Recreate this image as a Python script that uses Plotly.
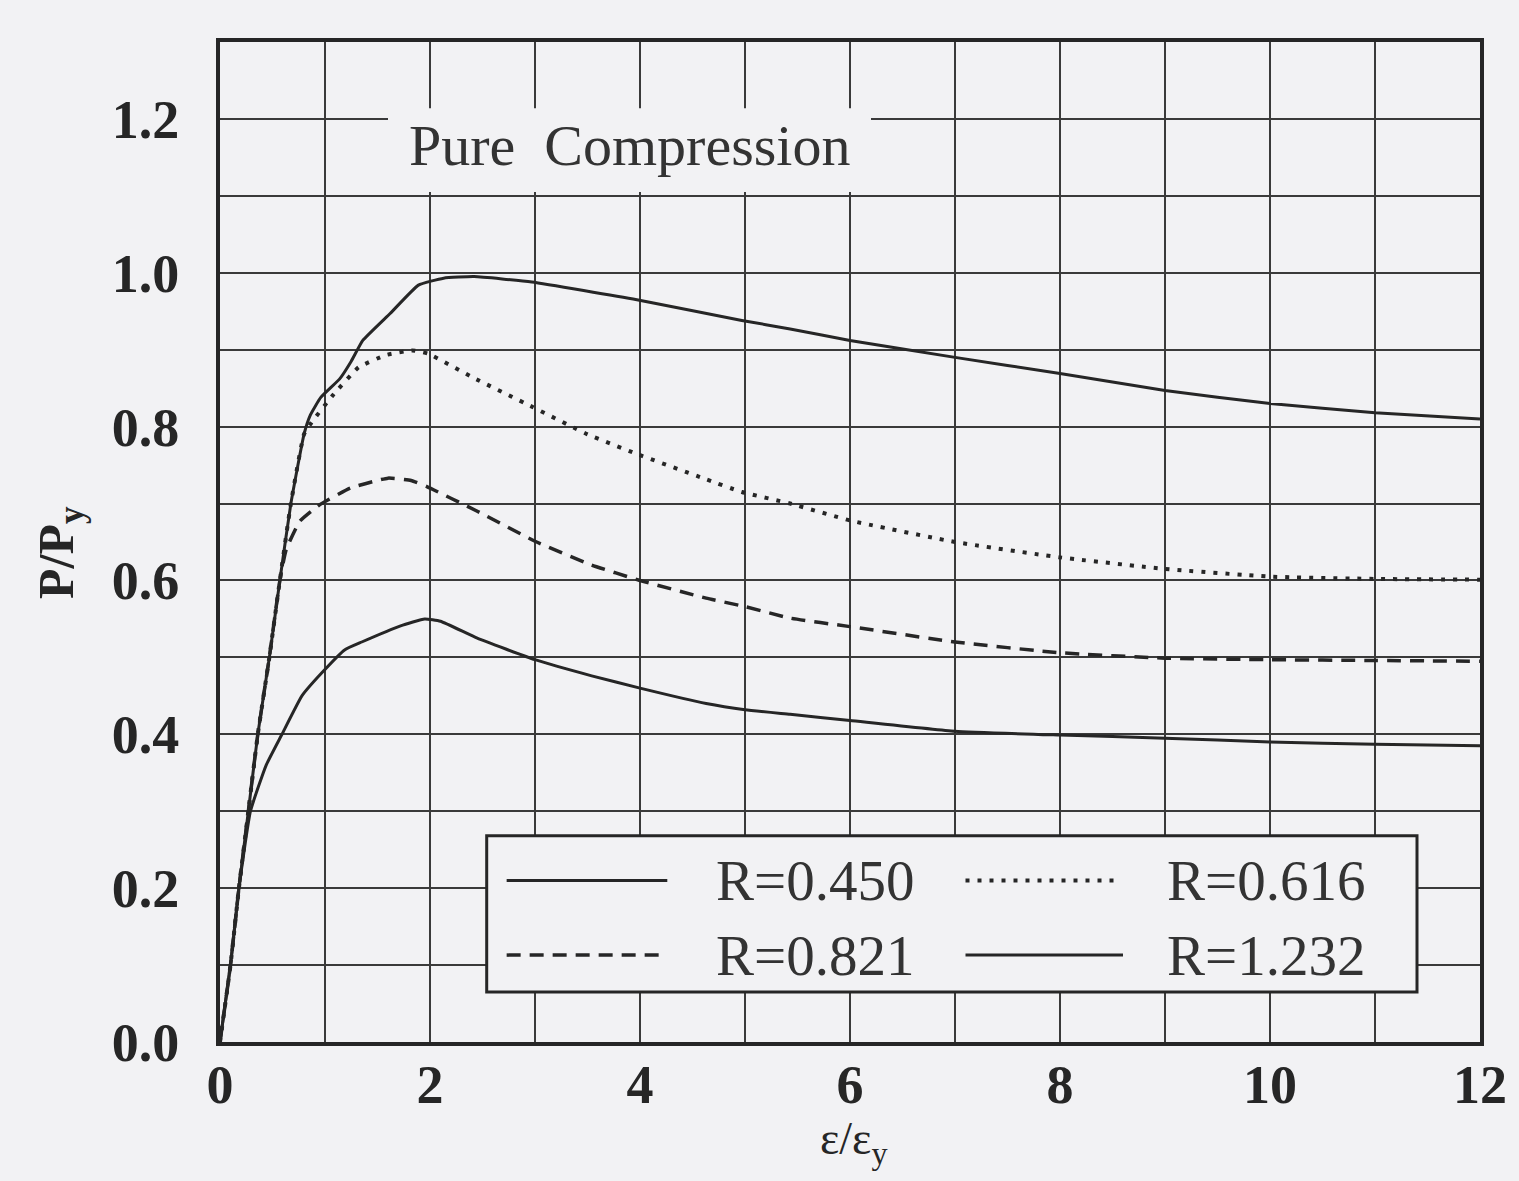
import plotly.graph_objects as go

# ---- data ----
x_r0450 = [0, 0.1, 0.18, 0.27, 0.36, 0.47, 0.57, 0.675, 0.8, 0.86, 0.96, 1.14, 1.25, 1.36, 1.62, 1.89, 2.13, 2.42, 2.97, 3.97, 4.97, 5.43, 6, 7, 8, 9, 10, 11, 12]
y_r0450 = [0, 0.1, 0.2, 0.3, 0.4, 0.5, 0.6, 0.7, 0.79, 0.815, 0.838, 0.862, 0.885, 0.912, 0.947, 0.984, 0.993, 0.995, 0.988, 0.965, 0.938, 0.927, 0.912, 0.89, 0.869, 0.847, 0.83, 0.818, 0.81]

x_r0616 = [0, 0.1, 0.18, 0.27, 0.36, 0.47, 0.57, 0.675, 0.8, 0.87, 1.07, 1.32, 1.58, 1.83, 1.98, 2.42, 2.97, 3.5, 3.96, 4.6, 4.97, 5.43, 6, 7, 8, 9, 10, 11, 12]
y_r0616 = [0, 0.1, 0.2, 0.3, 0.4, 0.5, 0.6, 0.7, 0.79, 0.805, 0.84, 0.877, 0.893, 0.899, 0.895, 0.863, 0.826, 0.79, 0.765, 0.733, 0.715, 0.70, 0.678, 0.65, 0.63, 0.615, 0.605, 0.602, 0.601]

x_r0821 = [0, 0.1, 0.18, 0.27, 0.36, 0.47, 0.57, 0.63, 0.76, 0.945, 1.24, 1.6, 1.82, 1.97, 2.45, 3.0, 3.54, 4.0, 4.63, 5.0, 5.43, 6, 7, 8, 9, 10, 11, 12]
y_r0821 = [0, 0.1, 0.2, 0.3, 0.4, 0.5, 0.6, 0.64, 0.677, 0.698, 0.72, 0.733, 0.73, 0.722, 0.69, 0.651, 0.62, 0.60, 0.577, 0.566, 0.551, 0.54, 0.52, 0.506, 0.499, 0.497, 0.496, 0.495]

x_r1232 = [0, 0.1, 0.18, 0.29, 0.44, 0.59, 0.78, 0.97, 1.19, 1.35, 1.72, 1.95, 2.1, 2.45, 3.0, 3.54, 4.0, 4.63, 5.0, 5.43, 6, 7, 8, 9, 10, 11, 12]
y_r1232 = [0, 0.1, 0.2, 0.3, 0.36, 0.40, 0.45, 0.48, 0.51, 0.52, 0.541, 0.55, 0.547, 0.525, 0.497, 0.476, 0.46, 0.44, 0.432, 0.426, 0.418, 0.404, 0.399, 0.395, 0.39, 0.387, 0.385]

series_names = ["R=0.450", "R=0.616", "R=0.821", "R=1.232"]
x_ticks = [0, 2, 4, 6, 8, 10, 12]
y_ticks = [0.0, 0.2, 0.4, 0.6, 0.8, 1.0, 1.2]

BG = "#f2f2f4"
INK = "#262626"
SERIF = "Liberation Serif"

DOT = "4px,8px"
DASH = "14px,9px"

styles = [
    dict(width=3, dash="solid"),
    dict(width=4, dash=DOT),
    dict(width=3.5, dash=DASH),
    dict(width=3, dash="solid"),
]
xs = [x_r0450, x_r0616, x_r0821, x_r1232]
ys = [y_r0450, y_r0616, y_r0821, y_r1232]

fig = go.Figure()
for name, x, y, st in zip(series_names, xs, ys, styles):
    fig.add_trace(go.Scatter(x=x, y=y, mode="lines", name=name, showlegend=False,
                             line=dict(color=INK, width=st["width"], dash=st["dash"],
                                       shape="spline", smoothing=0.4)))

shapes = []
annotations = []

# box behind "Pure Compression"
shapes.append(dict(type="rect", xref="x", yref="y", x0=1.6, x1=6.2, y0=1.105, y1=1.214,
                   fillcolor=BG, line=dict(width=0), layer="between"))
annotations.append(dict(text="Pure  Compression", x=3.9, y=1.165, xref="x", yref="y",
                        showarrow=False, xanchor="center", yanchor="middle",
                        font=dict(family=SERIF, size=58, color="#333333")))

# manual legend (two columns)
shapes.append(dict(type="rect", xref="x", yref="y", x0=2.54, x1=11.4, y0=0.065, y1=0.268,
                   fillcolor=BG, line=dict(color=INK, width=3), layer="between"))
leg_rows = [0.21, 0.21, 0.113, 0.113]
leg_x0 = [2.73, 7.1, 2.73, 7.1]
leg_x1 = [4.26, 8.57, 4.26, 8.6]
leg_tx = [4.7, 9.0, 4.7, 9.0]
for i in range(4):
    st = styles[i]
    shapes.append(dict(type="line", xref="x", yref="y", x0=leg_x0[i], x1=leg_x1[i],
                       y0=leg_rows[i], y1=leg_rows[i],
                       line=dict(color=INK, width=st["width"], dash=st["dash"]), layer="above"))
    annotations.append(dict(text=series_names[i], x=leg_tx[i], y=leg_rows[i], xref="x", yref="y",
                            showarrow=False, xanchor="left", yanchor="middle",
                            font=dict(family=SERIF, size=57, color="#333333")))

# axis titles
annotations.append(dict(text="<b>P/P<sub>y</sub></b>", x=-0.127, y=0.49, xref="paper", yref="paper",
                        showarrow=False, textangle=-90, xanchor="center", yanchor="middle",
                        font=dict(family=SERIF, size=50, color=INK)))
annotations.append(dict(text="ε/ε<sub>y</sub>", x=0.503, y=-0.1, xref="paper", yref="paper",
                        showarrow=False, xanchor="center", yanchor="middle",
                        font=dict(family=SERIF, size=46, color=INK)))

fig.update_layout(
    width=1519, height=1181,
    margin=dict(l=220, r=39, t=42, b=139),
    paper_bgcolor=BG, plot_bgcolor=BG,
    shapes=shapes, annotations=annotations,
    showlegend=False,
)
fig.update_xaxes(
    range=[0, 12], tickvals=x_ticks, ticktext=[str(v) for v in x_ticks],
    showgrid=True, gridcolor="#3a3a3a", gridwidth=2,
    minor=dict(dtick=1, showgrid=True, gridcolor="#3a3a3a", gridwidth=2),
    showline=True, linecolor=INK, linewidth=4, mirror=True, zeroline=False,
    ticks="", ticklabelstandoff=-8,
    tickfont=dict(family=SERIF, size=54, color=INK, weight="bold"),
)
fig.update_yaxes(
    range=[0, 1.3], tickvals=y_ticks, ticktext=[f"{v:.1f}" for v in y_ticks],
    showgrid=True, gridcolor="#3a3a3a", gridwidth=2,
    minor=dict(dtick=0.1, showgrid=True, gridcolor="#3a3a3a", gridwidth=2),
    showline=True, linecolor=INK, linewidth=4, mirror=True, zeroline=False,
    ticks="", ticklabelstandoff=26,
    tickfont=dict(family=SERIF, size=54, color=INK, weight="bold"),
)

fig.write_html("out.html")
